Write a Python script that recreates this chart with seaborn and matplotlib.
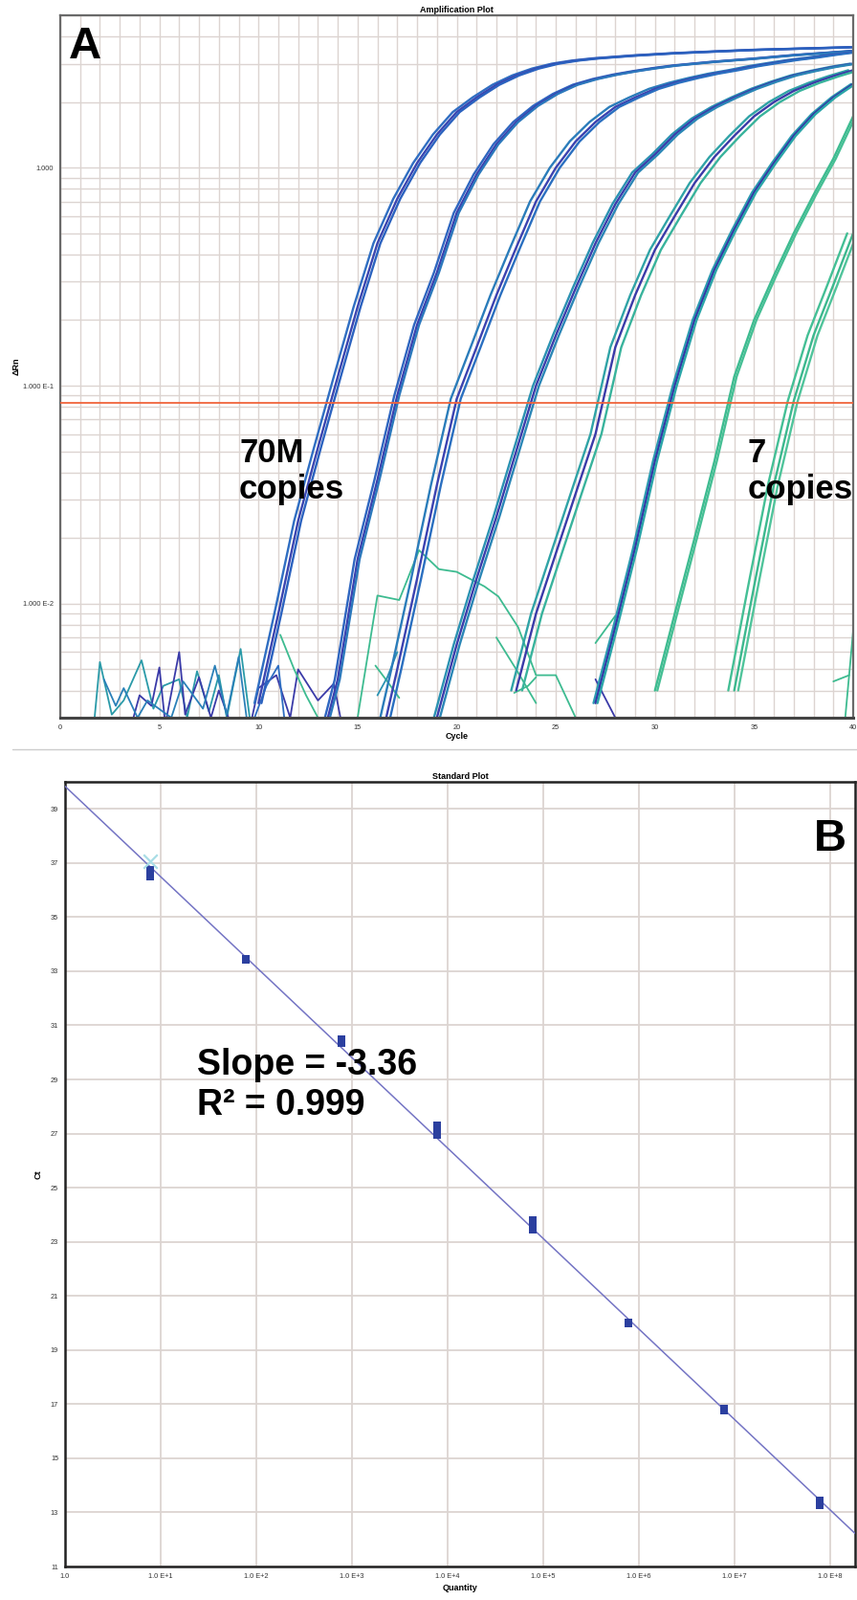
import numpy as np
import pandas as pd
import matplotlib
matplotlib.use("Agg")
import matplotlib.pyplot as plt
import matplotlib.ticker as mticker
import seaborn as sns

sns.set_style("white")
plt.rcParams["font.family"] = ["Liberation Sans", "DejaVu Sans"]
plt.rcParams["text.color"] = "black"
plt.rcParams["axes.labelcolor"] = "black"

# ---- panel A: delta Rn read at whole cycles, one profile per dilution ----
g_starts = [10, 13, 16, 19, 23, 27, 30, 34]
g1 = [0.0035, 0.009, 0.024, 0.052, 0.11, 0.23, 0.45, 0.72, 1.05, 1.42, 1.8,
      2.1, 2.4, 2.65, 2.85, 3.0, 3.1, 3.17, 3.22, 3.27, 3.31, 3.35, 3.38,
      3.41, 3.44, 3.47, 3.49, 3.51, 3.53, 3.55, 3.57]
g2 = [0.002, 0.0045, 0.016, 0.037, 0.09, 0.19, 0.33, 0.62, 0.93, 1.28, 1.62,
      1.92, 2.18, 2.4, 2.55, 2.67, 2.77, 2.86, 2.94, 3.0, 3.06, 3.11, 3.16,
      3.22, 3.28, 3.33, 3.38, 3.43]
g3 = [0.002, 0.005, 0.013, 0.035, 0.087, 0.15, 0.26, 0.43, 0.7, 1.0, 1.32,
      1.62, 1.9, 2.1, 2.3, 2.45, 2.58, 2.7, 2.8, 2.92, 3.02, 3.12, 3.2, 3.3,
      3.39]
g4 = [0.003, 0.0065, 0.013, 0.025, 0.05, 0.1, 0.17, 0.28, 0.45, 0.68, 0.95,
      1.15, 1.42, 1.68, 1.9, 2.1, 2.3, 2.48, 2.65, 2.78, 2.9, 3.0]
g5 = [0.004, 0.009, 0.017, 0.032, 0.06, 0.15, 0.26, 0.42, 0.6, 0.85, 1.12,
      1.4, 1.72, 2.0, 2.25, 2.45, 2.63, 2.8]
g6 = [0.0035, 0.0078, 0.018, 0.045, 0.1, 0.2, 0.34, 0.52, 0.77, 1.05, 1.4,
      1.76, 2.1, 2.42]
g7 = [0.004, 0.009, 0.02, 0.045, 0.11, 0.2, 0.32, 0.5, 0.75, 1.1, 1.72]
g8 = [0.004, 0.012, 0.035, 0.085, 0.17, 0.29, 0.5]
g_curves = [g1, g2, g3, g4, g5, g6, g7, g8]

# replicate offsets (cycles) seen at the threshold crossing
g_shifts = [[-0.2, 0.0, 0.15], [-0.15, 0.0, 0.1], [-0.3, 0.0, 0.2],
            [-0.15, 0.0, 0.15], [-0.25, 0.0, 0.3], [-0.1, 0.0, 0.1],
            [0.0, 0.12], [-0.3, 0.0, 0.2]]
g_colors = [["#2f6ec2", "#3a45b0", "#2b62bf"],
            ["#2e66c0", "#3a3fae", "#2b78bc"],
            ["#2a7cba", "#3b42b0", "#2a6fc0"],
            ["#2a92b2", "#3a3cab", "#2a86b6"],
            ["#2fa3a6", "#3a3aa8", "#38b39c"],
            ["#2b9bb0", "#3436a6", "#2aa5a8"],
            ["#3dbb90", "#45bf94"],
            ["#44bf95", "#3cb88e", "#50c49b"]]

# baseline noise traces (cycle, delta Rn)
noise_cyc = [
    [1.7, 2.0, 2.6, 3.2, 4.1, 4.7, 5.2, 6.0, 6.4, 6.9, 7.5, 8.0, 8.4, 9.1, 9.6],
    [3.6, 4.0, 4.6, 5.0, 5.3, 6.0, 6.3, 7.0, 7.6, 8.0, 8.6],
    [2.2, 2.8, 3.2, 3.9, 4.4, 5.6, 6.2, 7.2, 7.8, 8.4, 9.0, 9.4],
    [9.6, 10.0, 10.9, 11.6, 12.0, 13.0, 13.8, 14.2],
    [9.8, 10.4, 11.0, 11.3],
    [15.0, 16.0, 17.1, 18.1, 19.1, 20.0, 21.4, 22.1, 23.1, 24.0, 25.0, 26.0],
    [11.1, 11.8, 12.4, 13.0],
    [15.9, 16.5, 17.1],
    [16.0, 16.5, 17.0],
    [22.0, 23.0, 24.0],
    [22.9, 23.6, 24.0],
    [27.0, 28.0],
    [27.0, 28.0],
    [39.0, 39.8],
    [39.6, 40.0],
]
noise_rn = [
    [0.0028, 0.0054, 0.0031, 0.0036, 0.0055, 0.0033, 0.0042, 0.0045, 0.0030,
     0.0049, 0.0032, 0.0047, 0.0030, 0.0062, 0.0028],
    [0.0028, 0.0038, 0.0034, 0.0051, 0.0028, 0.0060, 0.0031, 0.0046, 0.0030,
     0.0040, 0.0028],
    [0.0045, 0.0034, 0.0041, 0.0030, 0.0036, 0.0030, 0.0044, 0.0033, 0.0052,
     0.0031, 0.0057, 0.0030],
    [0.0028, 0.0041, 0.0047, 0.0030, 0.0050, 0.0036, 0.0043, 0.0028],
    [0.0030, 0.0042, 0.0052, 0.0030],
    [0.0030, 0.0109, 0.0104, 0.0176, 0.0144, 0.0140, 0.0120, 0.0108, 0.0078,
     0.0047, 0.0047, 0.0030],
    [0.0072, 0.0050, 0.0038, 0.0030],
    [0.0052, 0.0044, 0.0037],
    [0.0038, 0.0046, 0.0060],
    [0.0070, 0.0050, 0.0035],
    [0.0039, 0.0042, 0.0046],
    [0.0066, 0.0088],
    [0.0045, 0.0030],
    [0.0044, 0.0047],
    [0.0030, 0.0075],
]
noise_colors = ["#2a9aa8", "#3a3aa8", "#2a80b8", "#3a3aa8", "#2f6ec2",
                "#3dbb90", "#3dbb90", "#3dbb90", "#2a92b2", "#3dbb90",
                "#3dbb90", "#3dbb90", "#3a3aa8", "#3dbb90", "#3dbb90"]

threshold = 0.083

# ---- panel B: standard curve ----
quantity = [7.7, 77, 770, 7.7e3, 7.7e4, 7.7e5, 7.7e6, 7.7e7]
ct_reps = [[36.75, 36.6, 36.5], [33.46, 33.44, 33.42], [30.5, 30.42, 30.35],
           [27.3, 27.1, 26.95], [23.8, 23.6, 23.45], [20.02, 20.0, 19.98],
           [16.85, 16.8, 16.75], [13.45, 13.35, 13.25]]
outlier_q = [7.7]
outlier_ct = [37.05]

# build long tables
rows, pal = [], {}
for gi, (st, vals, shs, cols) in enumerate(zip(g_starts, g_curves, g_shifts, g_colors)):
    for ri, (sh, col) in enumerate(zip(shs, cols)):
        w = f"g{gi}r{ri}"
        pal[w] = col
        for k, v in enumerate(vals):
            rows.append((w, st + k + sh, v))
amp = pd.DataFrame(rows, columns=["well", "cycle", "rn"])

nrows, npal = [], {}
for ni, (cs, vs, col) in enumerate(zip(noise_cyc, noise_rn, noise_colors)):
    w = f"n{ni}"
    npal[w] = col
    for c, v in zip(cs, vs):
        nrows.append((w, c, v))
noise = pd.DataFrame(nrows, columns=["well", "cycle", "rn"])

std = pd.DataFrame([(q, c) for q, cs in zip(quantity, ct_reps) for c in cs],
                   columns=["quantity", "ct"])

W, H = 896, 1672
fig = plt.figure(figsize=(W / 100, H / 100), dpi=100)
gridc = "#dcd4d1"
small = 5.3

# ---------------- panel A ----------------
ax1 = fig.add_axes([63 / W, 1 - 750 / H, 829 / W, 734 / H])
ax1.set_yscale("log")
ax1.set_xlim(0, 40)
ax1.set_ylim(0.003, 5)
ax1.set_axisbelow(True)
ax1.set_xticks(range(0, 41, 5))
ax1.xaxis.set_minor_locator(mticker.MultipleLocator(1))
ax1.set_yticks([0.01, 0.1, 1])
ax1.set_yticklabels(["1.000 E-2", "1.000 E-1", "1.000"])
ax1.yaxis.set_minor_locator(mticker.LogLocator(base=10, subs=np.arange(2, 10)))
ax1.yaxis.set_minor_formatter(mticker.NullFormatter())
ax1.grid(True, which="both", color=gridc, lw=1.0)
ax1.tick_params(which="major", labelsize=small, length=2, pad=3, colors="#333333")
ax1.tick_params(which="minor", length=0)

sns.lineplot(data=noise, x="cycle", y="rn", hue="well", palette=npal,
             estimator=None, sort=False, legend=False, lw=1.3, ax=ax1)
sns.lineplot(data=amp, x="cycle", y="rn", hue="well", palette=pal,
             estimator=None, sort=False, legend=False, lw=1.7, ax=ax1)
ax1.axhline(threshold, color="#f0643c", lw=1.3, zorder=5)

ax1.set_title("Amplification Plot", fontsize=6.5, fontweight="bold", pad=2)
ax1.set_xlabel("Cycle", fontsize=6.5, fontweight="bold", labelpad=1)
ax1.set_ylabel("\u0394Rn", fontsize=6.5, fontweight="bold", labelpad=2)
for s in ax1.spines.values():
    s.set_color("#6a6a6a")
    s.set_linewidth(1.6)
ax1.spines["bottom"].set_color("#444444")
ax1.spines["bottom"].set_linewidth(2.2)

ax1.text(0.011, 0.985, "A", transform=ax1.transAxes, fontsize=34,
         fontweight="bold", va="top", ha="left", color="black")
ax1.text(0.2256, 0.399, "70M\ncopies", transform=ax1.transAxes, fontsize=25,
         fontweight="bold", va="top", ha="left", color="black")
ax1.text(0.867, 0.399, "7\ncopies", transform=ax1.transAxes, fontsize=25,
         fontweight="bold", va="top", ha="left", color="black")

fig.add_artist(plt.Line2D([13 / W, 1], [1 - 783 / H] * 2, color="#cccccc", lw=1))

# ---------------- panel B ----------------
ax2 = fig.add_axes([68 / W, 1 - 1637 / H, 826 / W, 820 / H])
ax2.set_xscale("log")
ax2.set_xlim(1, 10 ** 8.26)
ax2.set_ylim(11, 40)
ax2.set_axisbelow(True)
ax2.set_xticks([10.0 ** k for k in range(9)])
ax2.set_xticklabels(["1.0"] + [f"1.0 E+{k}" for k in range(1, 9)])
ax2.xaxis.set_minor_locator(mticker.NullLocator())
ax2.set_yticks(range(11, 40, 2))
ax2.grid(True, which="major", color=gridc, lw=1.3)
ax2.tick_params(labelsize=small, length=2, pad=3, colors="#333333")

sns.regplot(data=std, x="quantity", y="ct", logx=True, ci=None, truncate=False,
            marker="s",
            scatter_kws=dict(s=34, color="#2b3f9f", edgecolor="none", alpha=1,
                             zorder=4),
            line_kws=dict(color="#7474c4", lw=1.1, zorder=3), ax=ax2)
sns.scatterplot(x=outlier_q, y=outlier_ct, marker="x", s=110, color="#a9dde6",
                linewidth=1.6, zorder=5, ax=ax2)

ax2.set_title("Standard Plot", fontsize=6.5, fontweight="bold", pad=2)
ax2.set_xlabel("Quantity", fontsize=6.5, fontweight="bold", labelpad=3)
ax2.set_ylabel("Ct", fontsize=6.5, fontweight="bold", labelpad=6)
for s in ax2.spines.values():
    s.set_color("#222222")
    s.set_linewidth(1.8)

ax2.text(0.989, 0.9537, "B", transform=ax2.transAxes, fontsize=34,
         fontweight="bold", va="top", ha="right", color="black")
ax2.text(0.167, 0.661, "Slope = -3.36\nR\u00b2 = 0.999", transform=ax2.transAxes,
         fontsize=27, fontweight="bold", va="top", ha="left", color="black")

fig.savefig("out.png", dpi=100)
